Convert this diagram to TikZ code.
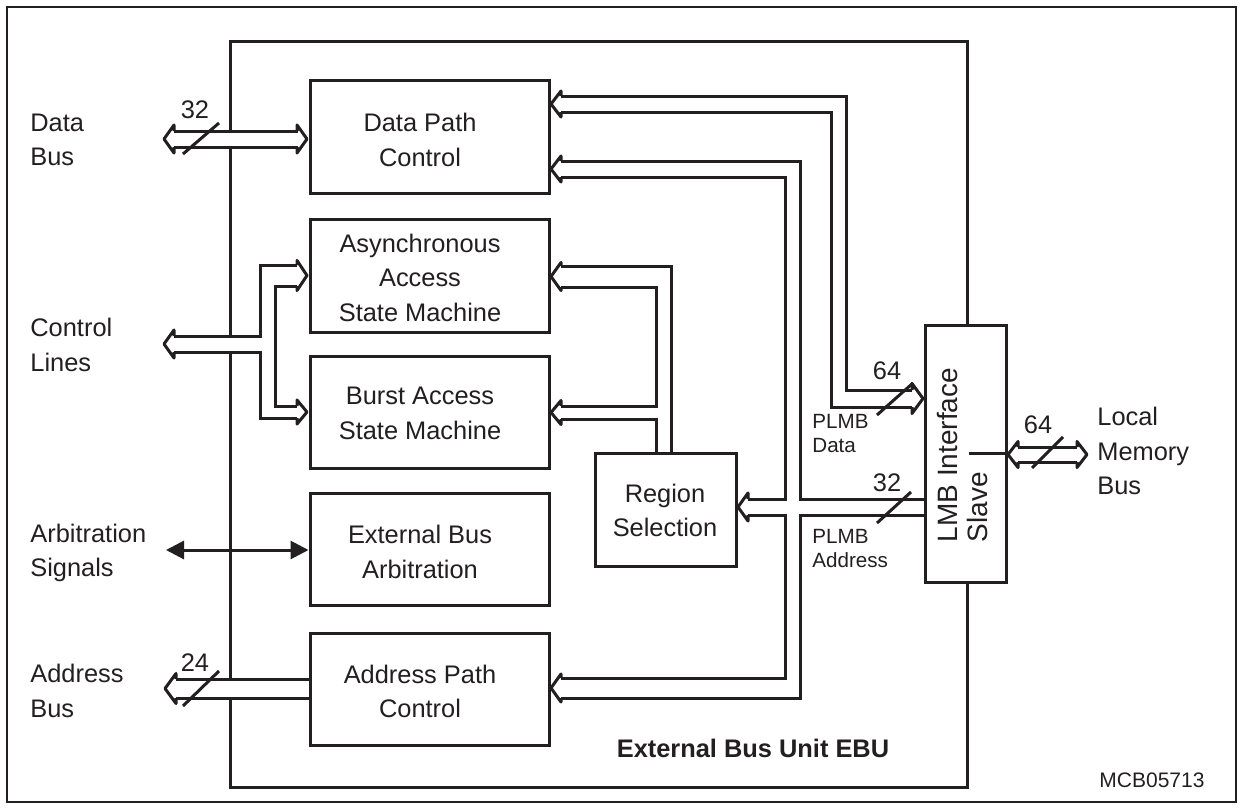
\documentclass[tikz,border=0pt]{standalone}
\usepackage{fontspec}
\setmainfont{Liberation Sans}
\usetikzlibrary{calc,arrows.meta}
\definecolor{ink}{HTML}{231F20}

% open chevron head of a hollow bus: tip x, tip y, barb offset along x,
% half gap of the bus, half width of the head
\newcommand\bushead[5]{%
  \draw[busline, line join=round] ({#1+(#3)},{#2-#4}) -- ({#1+(#3)},{#2-#5})
    -- (#1,#2) -- ({#1+(#3)},{#2+#5}) -- ({#1+(#3)},{#2+#4});
}

\begin{document}
\begin{tikzpicture}[x=0.5pt,y=-0.5pt,
  box/.style={draw=ink, line width=1.5pt, fill=white, inner sep=0pt, minimum width=119.5pt},
  txt/.style={font=\fontsize{12.7}{17.25}\selectfont, align=center, inner sep=0pt, text=ink},
  side/.style={txt, align=left, anchor=west},
  small/.style={font=\fontsize{10.3}{12}\selectfont, align=left, anchor=west, inner sep=0pt, text=ink},
  busline/.style={draw=ink, line width=1.5pt, line join=miter},
  slash/.style={draw=ink, line width=1.5pt},
]
\useasboundingbox (0,0) rectangle (1243,809);

% page frame and the unit
\node[draw=ink, line width=1pt, minimum width=614.5pt, minimum height=397.5pt, inner sep=0pt] (page) at (621.5,404.5) {};
\node[draw=ink, line width=1.5pt, minimum width=368.5pt, minimum height=373pt, inner sep=0pt] (ebu) at (598.5,414) {};

% bus interiors hide the unit border where they cross it
\fill[white] (174,131) rectangle (298,147);
\fill[white] (174,336) rectangle (260,352);
\fill[white] (176,679) rectangle (310,698);

% function blocks
\node[box, minimum height=56.5pt] (dpc) at (429.5,136.5) {};
\node[box, minimum height=56.5pt] (async) at (429.5,275.5) {};
\node[box, minimum height=56pt] (burst) at (429.5,412) {};
\node[box, minimum height=56pt] (arb) at (429.5,549) {};
\node[box, minimum height=56pt] (apc) at (429.5,689) {};
\node[box, minimum width=70.5pt, minimum height=56.5pt] (rs) at (665.5,509.5) {};
\node[box, minimum width=40.5pt, minimum height=128.5pt] (lmb) at (965.5,453.5) {};

\node[txt] (dpct) at (420,140) {Data Path\\Control};
\node[txt] (asynct) at (420,277.5) {Asynchronous\\Access\\State Machine};
\node[txt] (burstt) at (420,413.5) {Burst Access\\State Machine};
\node[txt] (arbt) at (420,552) {External Bus\\Arbitration};
\node[txt] (apct) at (420,691.5) {Address Path\\Control};
\node[txt] (rst) at (665,510.5) {Region\\Selection};
\node[font=\fontsize{14}{15}\selectfont, rotate=90, align=left, inner sep=0pt, text=ink] (lmbt) at (962,455) {LMB Interface\\Slave};

% external labels
\node[side] (ldata) at (30,140) {Data\\Bus};
\node[side] (lctrl) at (30,345) {Control\\Lines};
\node[side] (larb) at (30,553) {Arbitration\\Signals};
\node[side] (laddr) at (30,691) {Address\\Bus};
\node[side] (llmb) at (1097,451) {Local\\Memory\\Bus};

% data bus
\draw[busline] (174,131) -- (298,131);
\draw[busline] (174,147) -- (298,147);
\bushead{164}{139}{10}{8}{14}
\bushead{307}{139}{-10}{8}{14}
\draw[slash] (183,154) -- (219,123);
\node[txt] (n32a) at (195,110) {32};

% control lines to both state machines
\draw[busline] (174,336) -- (260,336) -- (260,265) -- (297,265);
\draw[busline] (297,286) -- (275,286) -- (275,406) -- (297,406);
\draw[busline] (297,418) -- (260,418) -- (260,352) -- (174,352);
\bushead{164}{344}{10}{8}{14}
\bushead{307}{275.5}{-10}{10.5}{15}
\bushead{307}{412}{-10}{6}{12}

% arbitration signals
\draw[ink, line width=1.5pt, {Triangle[length=9pt,width=9pt]}-{Triangle[length=9pt,width=9pt]}] (166,550) -- (arb.west |- 0,550);

% address bus
\draw[busline] (176,679) -- (apc.west |- 0,679);
\draw[busline] (176,698) -- (apc.west |- 0,698);
\bushead{165}{688.5}{11}{9.5}{15}
\draw[slash] (183,706) -- (219,671);
\node[txt] (n24) at (195,663) {24};

% PLMB data
\draw[busline] (561,96) -- (846,96) -- (846,390) -- (912,390);
\draw[busline] (561,112) -- (831,112) -- (831,407) -- (912,407);
\bushead{551}{104}{10}{8}{13}
\bushead{923}{398.5}{-11}{8.5}{15}
\draw[slash] (877,415) -- (913,383);
\node[txt] (n64a) at (887,371) {64};
\node[small] (lpd) at (812,433.5) {PLMB\\Data};

% PLMB address
\draw[busline] (561,161) -- (800,161) -- (800,499) -- (lmb.west |- 0,499);
\draw[busline] (561,177) -- (785,177) -- (785,499) -- (748,499);
\draw[busline] (748,515) -- (785,515) -- (785,678) -- (561,678);
\draw[busline] (lmb.west |- 0,515) -- (800,515) -- (800,698) -- (561,698);
\bushead{551}{169}{10}{8}{13}
\bushead{738}{507}{10}{8}{14}
\bushead{551}{688}{10}{10}{14}
\draw[slash] (877,523) -- (911,492);
\node[txt] (n32b) at (887,483) {32};
\node[small] (lpa) at (812,548.5) {PLMB\\Address};

% region selection to the state machines
\draw[busline] (561,266) -- (671,266) -- (rs.north -| 671,0);
\draw[busline] (561,287) -- (656,287) -- (656,406) -- (561,406);
\draw[busline] (561,419) -- (656,419) -- (rs.north -| 656,0);
\bushead{551}{276.5}{10}{10.5}{14}
\bushead{551}{412.5}{10}{6.5}{12}

% local memory bus
\draw[busline] (ebu.east |- 0,453) -- (lmb.east |- 0,453);
\draw[busline] (1018,447) -- (1077,447);
\draw[busline] (1018,462) -- (1077,462);
\bushead{1008}{454.5}{10}{7.5}{13}
\bushead{1087}{454.5}{-10}{7.5}{13}
\draw[slash] (1032,468) -- (1063,437);
\node[txt] (n64b) at (1038,425) {64};

% captions
\node[txt, font=\fontsize{12.7}{15}\selectfont\bfseries] (ebut) at (753,748) {External Bus Unit EBU};
\node[txt, font=\fontsize{10.5}{12}\selectfont] (code) at (1152,780) {MCB05713};
\end{tikzpicture}
\end{document}
